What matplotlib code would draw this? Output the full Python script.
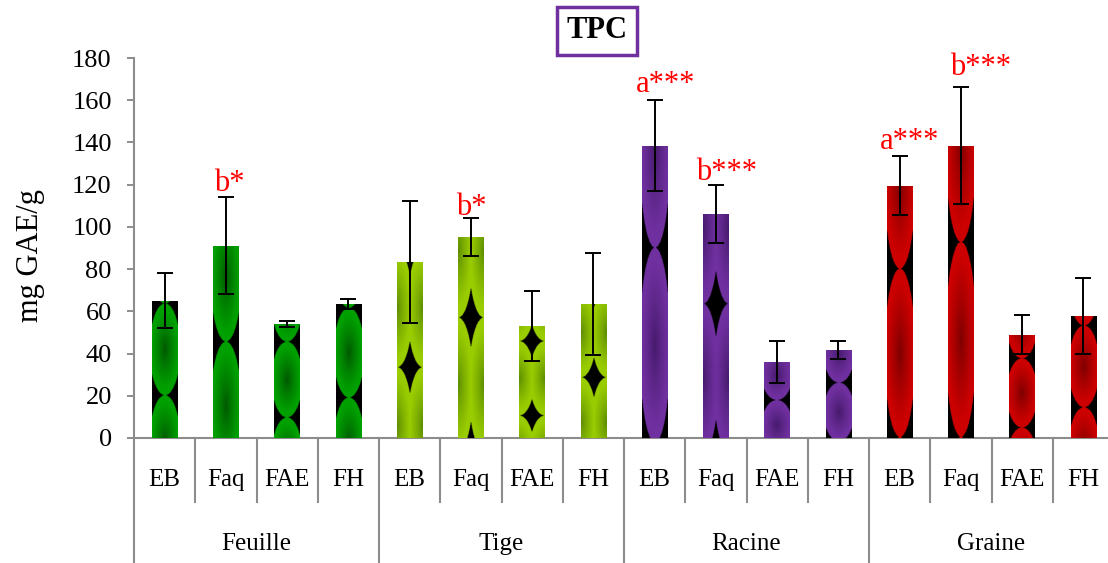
import numpy as np
import matplotlib
matplotlib.use("Agg")
import matplotlib.pyplot as plt
from matplotlib.transforms import blended_transform_factory

plt.rcParams['font.family'] = ['Liberation Serif', 'DejaVu Serif']

# ---------------- data ----------------
groups = ["Feuille", "Tige", "Racine", "Graine"]
extracts = ["EB", "Faq", "FAE", "FH"]
feuille_vals = [65, 91, 54, 63.5]
feuille_err = [13, 23, 1.5, 2.2]
tige_vals = [83.5, 95, 53, 63.5]
tige_err = [29, 9, 16.5, 24]
racine_vals = [138.5, 106, 36, 41.5]
racine_err = [21.7, 13.8, 10, 4.3]
graine_vals = [119.5, 138.5, 49, 58]
graine_err = [14, 27.8, 9.3, 18]
# annotations: (group index, extract index, label)
annotations = [(0, 1, "b*"), (1, 1, "b*"), (2, 0, "a***"), (2, 1, "b***"),
               (3, 0, "a***"), (3, 1, "b***")]
y_ticks = [0, 20, 40, 60, 80, 100, 120, 140, 160, 180]

# ---------------- styles ----------------
group_bright = ["#00a000", "#9acd00", "#7030a0", "#cc0000"]
group_dark = ["#005500", "#5a8a00", "#44196a", "#7a0000"]
ann_dx_px = [3, 0, 11, 11, 10, 20]
ann_dy_px = [6, 3, 8, 5, 7, 12]
phase = [0.31, 0.5, 0.18, 0.3, 0.4, 0.6, 0.2, 0.45, 0.65, 0.6, 0.5, 0.63, 0.67, 0.67, 0.1, 0.25]
hshift = [0, 0, 0, 0, 0.5, 0.5, 0.5, 0.5, 0, 0.5, 0, 0, 0, 0, 0, 0]

values = [feuille_vals, tige_vals, racine_vals, graine_vals]
errors = [feuille_err, tige_err, racine_err, graine_err]

W, H = 1108, 563
fig = plt.figure(figsize=(W / 100, H / 100), dpi=100)
ax_left, ax_right, ax_bottom, ax_top = 134, 1114, 438, 58
ax = fig.add_axes([ax_left / W, 1 - ax_bottom / H, (ax_right - ax_left) / W,
                   (ax_bottom - ax_top) / H])

grey = "#8c8c8c"
bar_w = 0.42


def hex2rgb(h):
    return np.array([int(h[i:i + 2], 16) / 255 for i in (1, 3, 5)])


k = 0
for g in range(len(groups)):
    xs = np.arange(4) + 4 * g
    bars = ax.bar(xs, values[g], width=bar_w, color=group_bright[g], zorder=2)
    ax.errorbar(xs, values[g], yerr=errors[g], fmt='none', ecolor='black',
                elinewidth=1.4, capsize=5.5, capthick=1.4, zorder=5)
    bright = hex2rgb(group_bright[g])
    dark = hex2rgb(group_dark[g])
    for j, rect in enumerate(bars):
        v = values[g][j]
        ny, nx = 400, 60
        yy = np.linspace(0, v, ny)[:, None]
        uu = np.linspace(0, 1, nx)[None, :]
        tile = v / 1.5
        t = ((yy - v * phase[k]) / tile) % 1.0
        xl = (uu + hshift[k]) % 1.0
        dx = (xl - 0.5) / 0.6
        dy = (t - 0.5) / 0.5
        r = np.sqrt(dx ** 2 + dy ** 2)
        f = np.clip(r / 0.85, 0, 1) ** 0.8
        img = dark[None, None, :] + (bright - dark)[None, None, :] * f[:, :, None]
        img[r > 1] = 0.0
        x0 = rect.get_x()
        im = ax.imshow(img, extent=[x0, x0 + bar_w, 0, v], origin='lower',
                       aspect='auto', interpolation='bilinear', zorder=3)
        im.set_clip_path(rect)
        k += 1

for i, (g, j, lab) in enumerate(annotations):
    x = 4 * g + j
    ytop = values[g][j] + errors[g][j]
    ax.annotate(lab, xy=(x, ytop), xytext=(ann_dx_px[i] * 0.72, ann_dy_px[i] * 0.72),
                textcoords='offset points', ha='center', va='baseline',
                color='#ff0000', fontsize=22, zorder=6)

ax.set_xlim(-0.5, 15.5)
ax.set_ylim(0, 180)
ax.set_yticks(y_ticks)
ax.set_xticks([])
for s in ['top', 'right']:
    ax.spines[s].set_visible(False)
for s in ['left', 'bottom']:
    ax.spines[s].set_color(grey)
    ax.spines[s].set_linewidth(1.5)
ax.tick_params(axis='y', direction='out', length=5, width=1.4, color=grey,
               labelsize=19, pad=11)

# multi-level category axis
tr = blended_transform_factory(ax.transData, ax.transAxes)
for b in range(1, 16):
    if b % 4 == 0:
        continue
    ax.plot([b - 0.5, b - 0.5], [0, -0.168], transform=tr, color=grey, lw=1.5,
            clip_on=False)
for b in range(0, 17, 4):
    ax.plot([b - 0.5, b - 0.5], [0, -0.36], transform=tr, color=grey, lw=1.5,
            clip_on=False)
for g in range(len(groups)):
    for j, e in enumerate(extracts):
        ax.text(4 * g + j, -0.11, e, transform=tr, ha='center', va='center',
                fontsize=18)
    ax.text(4 * g + 1.5, -0.28, groups[g], transform=tr, ha='center',
            va='center', fontsize=18)

ax.set_ylabel("mg GAE/g", fontsize=22)
ax.yaxis.set_label_coords(-(134 - 45) / 980, (438 - 256) / 380)

fig.text(597 / W, 1 - 31 / H, "TPC", ha='center', va='center', fontsize=22,
         fontweight='bold',
         bbox=dict(boxstyle='square,pad=0.3', facecolor='white',
                   edgecolor='#7030a0', linewidth=2.5))

fig.savefig("out.png", dpi=100)
